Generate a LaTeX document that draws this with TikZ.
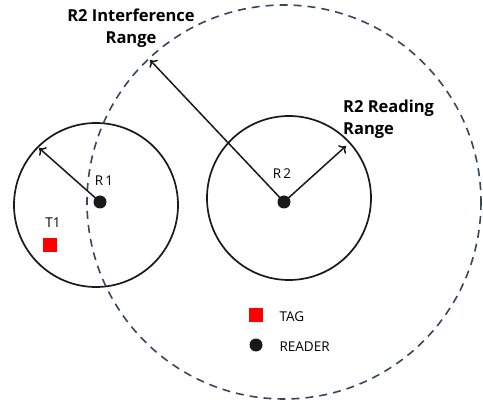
\documentclass[tikz,border=0pt]{standalone}
\usepackage{fontspec}
\setmainfont{Open Sans}
\usetikzlibrary{arrows.meta}
\definecolor{navy}{HTML}{34475E}
\definecolor{tagred}{HTML}{FF0000}
\begin{document}
\begin{tikzpicture}[x=1pt,y=-1pt,
  readrange/.style={draw=black!90,line width=1.7pt},
  irange/.style={draw=navy,line width=1.6pt,dash pattern=on 8pt off 6pt},
  radius arrow/.style={draw=black!90,line width=1.5pt,-{To[length=6pt,width=11pt]}},
  reader/.style={circle,fill=black!90,minimum size=13pt,inner sep=0pt},
  tag/.style={rectangle,fill=tagred,minimum size=14pt,inner sep=0pt},
  small/.style={font=\fontsize{13.5}{16}\selectfont},
  big/.style={font=\fontsize{16.5}{21.5}\selectfont\bfseries,inner sep=0pt}]
\useasboundingbox (0,0) rectangle (483,404);
% circles
\draw[readrange] (96,205) circle (82);
\draw[readrange] (289,198) circle (82);
\draw[irange] (284,202) circle (197);
% readers
\node[reader] (r1) at (100,202) {};
\node[reader] (r2) at (284,202) {};
\coordinate (a1) at (39,148);
\coordinate (a2) at (346,146);
\coordinate (a3) at (150,60);
\draw[radius arrow] (r1.center) -- (a1);
\draw[radius arrow] (r2.center) -- (a2);
\draw[radius arrow] (r2.center) -- (a3);
% tag
\node[tag] (t1) at (50,245) {};
% labels
\node[small] (l1) at (104,181) {R\,1};
\node[small] (l2) at (282,174) {R\,2};
\node[small] (lt) at (53,223) {T1};
\node[big,align=center] (li) at (131,28) {R2 Interference\\Range};
\node[big,align=left,anchor=west] (lr) at (343,119) {R2 Reading\\Range};
% legend
\node[tag] (lgt) at (256,315) {};
\node[reader] (lgr) at (256,345) {};
\node[small,anchor=west] (lgtt) at (276,317) {TAG};
\node[small,anchor=west] (lgrt) at (276,347) {READER};
\end{tikzpicture}
\end{document}
